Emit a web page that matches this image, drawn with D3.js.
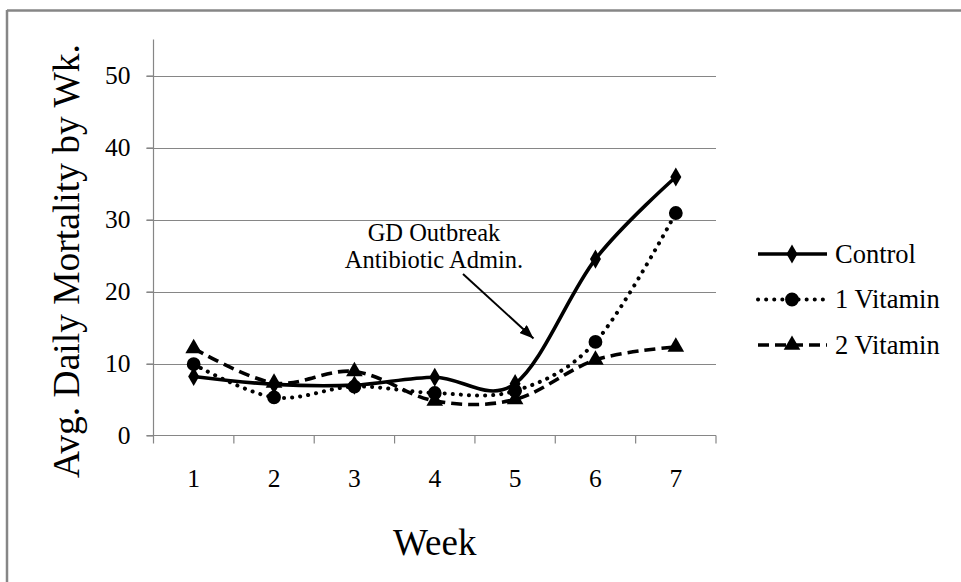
<!DOCTYPE html>
<html>
<head>
<meta charset="utf-8">
<script src="https://cdn.jsdelivr.net/npm/d3@7/dist/d3.min.js"></script>
<style>
  html, body { margin: 0; padding: 0; background: #fff; }
  svg, svg text { font-family: "Liberation Serif", "Times New Roman", serif; }
  svg { display: block; }
</style>
</head>
<body>
<svg id="chart" width="961" height="582"></svg>
<script>
// Weekly average daily mortality by treatment group
const weeks = ["1", "2", "3", "4", "5", "6", "7"];
const control = [8.2, 7.1, 7.0, 8.1, 7.2, 24.5, 35.9];
const vitamin1 = [9.9, 5.3, 6.8, 5.9, 6.2, 13.0, 30.9];
const vitamin2 = [12.1, 7.3, 8.9, 4.8, 5.0, 10.5, 12.3];
const seriesNames = ["Control", "1 Vitamin", "2 Vitamin"];
const yTicks = [0, 10, 20, 30, 40, 50];
const noteLines = ["GD Outbreak", "Antibiotic Admin."];

const FONT = "Liberation Serif, Times New Roman, serif";
const svg = d3.select("#chart");
const W = 961, H = 582;
const plotL = 153.5, plotR = 716, plotT = 39.5, plotB = 435.5;
const gray = "#868686";

// frame lines (top and left edges of the chart box)
svg.append("line").attr("x1", 7).attr("x2", W).attr("y1", 10.5).attr("y2", 10.5)
  .attr("stroke", gray).attr("stroke-width", 2.5);
svg.append("line").attr("x1", 7).attr("x2", 7).attr("y1", 10).attr("y2", H)
  .attr("stroke", gray).attr("stroke-width", 2.5);

const x = d3.scaleBand().domain(weeks).range([plotL, plotR]);
const y = d3.scaleLinear().domain([0, 55]).range([plotB, plotT]);
const cx = w => x(w) + x.bandwidth() / 2;

// horizontal gridlines
svg.append("g").selectAll("line").data(yTicks.filter(t => t > 0)).join("line")
  .attr("x1", plotL - 7).attr("x2", plotR)
  .attr("y1", d => Math.round(y(d)) + 0.5).attr("y2", d => Math.round(y(d)) + 0.5)
  .attr("stroke", gray).attr("stroke-width", 1.2);

// y axis
const yAxis = svg.append("g").attr("transform", `translate(${plotL},0)`)
  .call(d3.axisLeft(y).tickValues(yTicks).tickSize(7).tickPadding(16).tickFormat(d3.format("d")))
  .attr("font-family", FONT);
yAxis.select(".domain").attr("stroke", gray).attr("stroke-width", 1.2).attr("d", `M0,${plotT}V${plotB}`);
yAxis.selectAll(".tick line").attr("stroke", gray).attr("stroke-width", 1.2);
yAxis.selectAll(".tick text").attr("font-size", 25.5).attr("fill", "#000").attr("font-family", FONT);

// x axis with tick marks between categories
const xAxis = svg.append("g").attr("transform", `translate(0,${plotB})`)
  .call(d3.axisBottom(x).tickSize(0).tickPadding(33))
  .attr("font-family", FONT);
xAxis.select(".domain").attr("stroke", gray).attr("stroke-width", 1.2).attr("d", `M${plotL - 7},0H${plotR}`);
xAxis.selectAll(".tick text").attr("font-size", 25.5).attr("fill", "#000").attr("font-family", FONT);
const bounds = weeks.map(w => x(w)).concat([plotR]);
svg.append("g").selectAll("line").data(bounds).join("line")
  .attr("x1", d => d).attr("x2", d => d).attr("y1", plotB).attr("y2", plotB + 8)
  .attr("stroke", gray).attr("stroke-width", 1.2);

// axis titles
svg.append("text").attr("x", (plotL + plotR) / 2).attr("y", 555).attr("text-anchor", "middle")
  .attr("font-family", FONT).attr("font-size", 37).text("Week");
svg.append("text").attr("transform", "translate(79,261) rotate(-90)").attr("text-anchor", "middle")
  .attr("font-family", FONT).attr("font-size", 37.5).text("Avg. Daily Mortality by Wk.");

// series
const series = [
  { name: seriesNames[0], values: control, dash: null, cap: "butt", marker: d3.symbolDiamond, size: 105 },
  { name: seriesNames[1], values: vitamin1, dash: "0.1 8", cap: "round", marker: d3.symbolCircle, size: 150 },
  { name: seriesNames[2], values: vitamin2, dash: "11 6", cap: "butt", marker: d3.symbolTriangle, size: 120 }
];

const line = d3.line().x((d, i) => cx(weeks[i])).y(d => y(d)).curve(d3.curveCatmullRom.alpha(0));

series.forEach(s => {
  svg.append("path").datum(s.values).attr("d", line)
    .attr("fill", "none").attr("stroke", "#000").attr("stroke-width", s.cap === "round" ? 4 : 3.6)
    .attr("stroke-linecap", s.cap).attr("stroke-linejoin", "round")
    .attr("stroke-dasharray", s.dash);
  svg.append("g").selectAll("path").data(s.values).join("path")
    .attr("d", d3.symbol().type(s.marker).size(s.size))
    .attr("transform", (d, i) => `translate(${cx(weeks[i])},${y(d)})`)
    .attr("fill", "#000");
});

// legend
const lg = svg.append("g");
series.forEach((s, i) => {
  const ly = 254 + i * 45.5;
  lg.append("line").attr("x1", 758).attr("x2", 827).attr("y1", ly).attr("y2", ly)
    .attr("stroke", "#000").attr("stroke-width", s.cap === "round" ? 4 : 3.6)
    .attr("stroke-linecap", s.cap).attr("stroke-dasharray", s.dash);
  lg.append("path").attr("d", d3.symbol().type(s.marker).size(s.size))
    .attr("transform", `translate(792,${ly})`).attr("fill", "#000");
  lg.append("text").attr("x", 835).attr("y", ly + 8.5)
    .attr("font-family", FONT).attr("font-size", 26.5).text(s.name);
});

// annotation with arrow
const defs = svg.append("defs");
defs.append("marker").attr("id", "arrowhead").attr("viewBox", "0 0 10 10")
  .attr("refX", 10).attr("refY", 5).attr("markerWidth", 14).attr("markerHeight", 11)
  .attr("markerUnits", "userSpaceOnUse").attr("orient", "auto").attr("preserveAspectRatio", "none")
  .append("path").attr("d", "M0,0L10,5L0,10Z").attr("fill", "#000");
svg.append("line").attr("x1", 463).attr("y1", 274).attr("x2", 533.5).attr("y2", 338.5)
  .attr("stroke", "#000").attr("stroke-width", 2).attr("marker-end", "url(#arrowhead)");
noteLines.forEach((t, i) => {
  svg.append("text").attr("text-anchor", "middle")
    .attr("font-family", FONT).attr("font-size", 24.5)
    .attr("x", 434).attr("y", 241 + i * 26.5).text(t);
});
</script>
</body>
</html>
